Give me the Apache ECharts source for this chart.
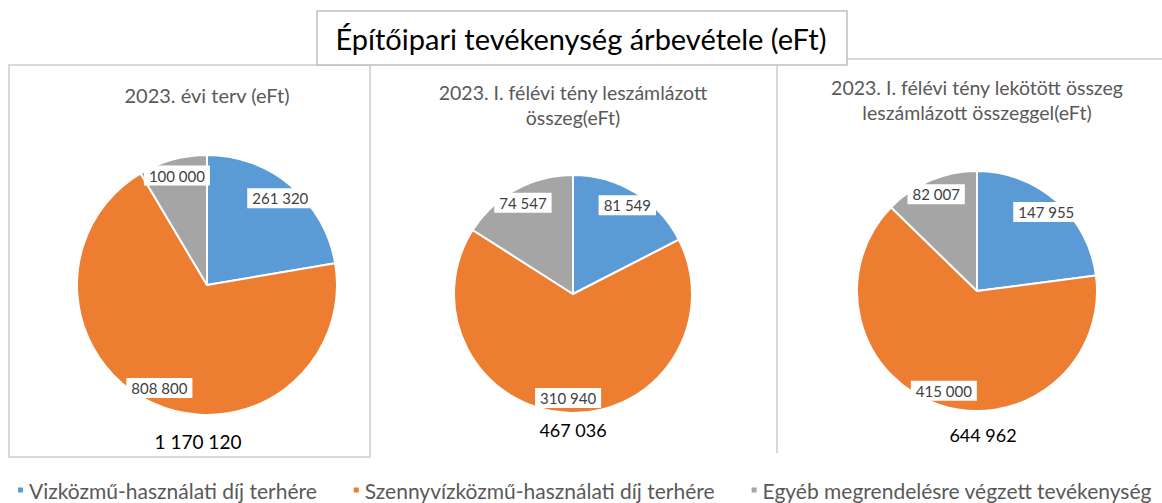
<!DOCTYPE html>
<html>
<head>
<meta charset="utf-8">
<script src="https://cdn.jsdelivr.net/npm/echarts@6/dist/echarts.min.js"></script>
<style>
html,body{margin:0;padding:0;background:#fff;}
#chart{width:1162px;height:503px;}
</style>
</head>
<body>
<div id="chart"></div>
<script>
// ---- data ----
const mainTitle = 'Építőipari tevékenység árbevétele (eFt)';
const categories = [
  'Vizközmű-használati díj terhére',
  'Szennyvízközmű-használati díj terhére',
  'Egyéb megrendelésre végzett tevékenység'
];
const panelTitles = [
  '2023. évi terv (eFt)',
  '2023. I. félévi tény leszámlázott\nösszeg(eFt)',
  '2023. I. félévi tény lekötött összeg\nleszámlázott összeggel(eFt)'
];
const planValues = [261320, 808800, 100000];
const billedValues = [81549, 310940, 74547];
const contractedValues = [147955, 415000, 82007];
const colors = ['#5b9bd5', '#ed7d31', '#a5a5a5'];

// ---- layout ----
const FONT = 'Lato, "Open Sans", sans-serif';
const pies = [
  { values: planValues,       center: [207, 285], r: 130, titleY: 95,  titleSize: 20,   total: [198, 441], totalSize: 19 },
  { values: billedValues,     center: [573, 294], r: 119, titleY: 105, titleSize: 19.5, total: [573, 430], totalSize: 18 },
  { values: contractedValues, center: [977, 291], r: 120, titleY: 100, titleSize: 19.5, total: [983, 435], totalSize: 18 }
];

function fmt(n) {
  return String(n).replace(/\B(?=(\d{3})+(?!\d))/g, ' ');
}

const series = [];
pies.forEach(function (p) {
  const data = categories.map(function (c, k) {
    return { name: c, value: p.values[k], itemStyle: { color: colors[k] } };
  });
  series.push({
    type: 'pie',
    center: p.center,
    radius: p.r,
    startAngle: 90,
    clockwise: true,
    avoidLabelOverlap: false,
    label: { show: false },
    labelLine: { show: false },
    itemStyle: { borderColor: '#ffffff', borderWidth: 2 },
    emphasis: { disabled: true },
    animation: false,
    data: data
  });
});
pies.forEach(function (p) {
  const data = categories.map(function (c, k) {
    return { name: c, value: p.values[k] };
  });
  series.push({
    type: 'pie',
    center: p.center,
    radius: [p.r * 0.7, p.r],
    startAngle: 90,
    clockwise: true,
    avoidLabelOverlap: false,
    silent: true,
    legendHoverLink: false,
    itemStyle: { color: 'rgba(0,0,0,0)', borderWidth: 0 },
    label: {
      show: true,
      position: 'inside',
      formatter: function (d) { return fmt(d.value); },
      color: '#404040',
      fontFamily: FONT,
      fontSize: 15,
      backgroundColor: '#ffffff',
      padding: [3, 5, 2, 5]
    },
    labelLine: { show: false },
    emphasis: { disabled: true },
    animation: false,
    z: 3,
    data: data
  });
});

const lineStyle = { stroke: '#d9d9d9', lineWidth: 2 };
const graphics = [
  { type: 'rect', shape: { x: 9, y: 65, width: 361, height: 392 }, style: { fill: 'none', stroke: '#d9d9d9', lineWidth: 2 }, z: 0 },
  { type: 'line', shape: { x1: 370, y1: 63, x2: 777, y2: 63 }, style: lineStyle, z: 0 },
  { type: 'line', shape: { x1: 777, y1: 59, x2: 777, y2: 453 }, style: lineStyle, z: 0 },
  { type: 'line', shape: { x1: 777, y1: 59, x2: 1162, y2: 59 }, style: lineStyle, z: 0 },
  { type: 'rect', shape: { x: 317, y: 11, width: 530, height: 54 }, style: { fill: '#ffffff', stroke: '#bfbfbf', lineWidth: 1.5 }, z: 1 }
];
pies.forEach(function (p, i) {
  graphics.push({
    type: 'text', x: p.center[0], y: p.titleY, z: 2,
    style: { text: panelTitles[i], fill: '#595959', font: p.titleSize + 'px ' + FONT, align: 'center', verticalAlign: 'middle', lineHeight: 25 }
  });
  const total = p.values.reduce(function (a, b) { return a + b; }, 0);
  graphics.push({
    type: 'text', x: p.total[0], y: p.total[1], z: 2,
    style: { text: fmt(total), fill: '#000000', font: p.totalSize + 'px ' + FONT, align: 'center', verticalAlign: 'middle' }
  });
});

const chart = echarts.init(document.getElementById('chart'), null, { renderer: 'svg' });
chart.setOption({
  animation: false,
  backgroundColor: '#ffffff',
  title: {
    text: mainTitle,
    left: 'center',
    top: 21,
    padding: 0,
    z: 5,
    textStyle: { fontFamily: FONT, fontSize: 29, fontWeight: 'normal', color: '#000000', lineHeight: 34 }
  },
  legend: {
    data: categories,
    left: 16,
    top: 479,
    padding: 0,
    icon: 'rect',
    itemWidth: 7,
    itemHeight: 7,
    itemGap: 35,
    textStyle: { fontFamily: FONT, fontSize: 21, color: '#595959', lineHeight: 22 }
  },
  graphic: graphics,
  series: series
});
</script>
</body>
</html>
